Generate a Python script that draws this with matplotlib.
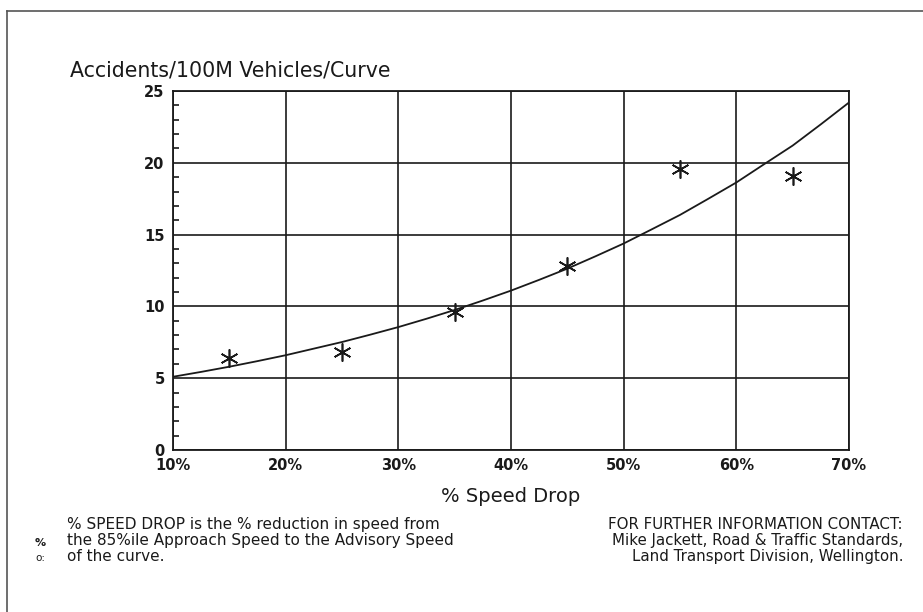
import matplotlib.pyplot as plt
from matplotlib.lines import Line2D
from matplotlib.ticker import MultipleLocator

# observed accident rates per curve
speed_drop = [15, 25, 35, 45, 55, 65]
accidents = [6.4, 6.8, 9.6, 12.8, 19.6, 19.1]

# fitted trend line, read every 2.5 %
fit_x = [10, 12.5, 15, 17.5, 20, 22.5, 25, 27.5, 30, 32.5, 35, 37.5, 40,
         42.5, 45, 47.5, 50, 52.5, 55, 57.5, 60, 62.5, 65, 67.5, 70]
fit_y = [5.1, 5.44, 5.8, 6.19, 6.6, 7.06, 7.52, 8.03, 8.56, 9.14, 9.75,
         10.41, 11.1, 11.85, 12.63, 13.49, 14.38, 15.37, 16.37, 17.49,
         18.63, 19.92, 21.2, 22.68, 24.2]

x_ticks = [10, 20, 30, 40, 50, 60, 70]
x_labels = ['10%', '20%', '30%', '40%', '50%', '60%', '70%']
y_ticks = [0, 5, 10, 15, 20, 25]

ink = '#1a1a1a'

fig = plt.figure(figsize=(9.23, 6.12), dpi=100)
W, H = 923, 612
ax = fig.add_axes([173 / W, 1 - 450 / H, (849 - 173) / W, (450 - 91) / H])

ax.plot(fit_x, fit_y, color=ink, lw=1.3, zorder=3)
ax.plot(speed_drop, accidents, ls='none', marker=(6, 2, 0), ms=13,
        mec=ink, mew=1.2, zorder=4)

ax.set_xlim(10, 70)
ax.set_ylim(0, 25)
ax.set_xticks(x_ticks)
ax.set_xticklabels(x_labels)
ax.set_yticks(y_ticks)
ax.yaxis.set_minor_locator(MultipleLocator(1))
ax.grid(True, color=ink, lw=1.2)
for s in ax.spines.values():
    s.set_color(ink)
    s.set_linewidth(1.3)
ax.tick_params(axis='both', which='major', length=0, pad=6, labelsize=10.5,
               labelcolor=ink)
ax.tick_params(axis='y', which='minor', direction='in', length=4, width=1.2,
               color=ink)
for lab in ax.get_xticklabels() + ax.get_yticklabels():
    lab.set_fontweight('bold')

ax.set_xlabel('% Speed Drop', fontsize=14, color=ink, labelpad=10)

fig.text(70 / W, 1 - 70 / H, 'Accidents/100M Vehicles/Curve', fontsize=14.8,
         color=ink, va='center', ha='left')

note = ('% SPEED DROP is the % reduction in speed from\n'
        'the 85%ile Approach Speed to the Advisory Speed\n'
        'of the curve.')
fig.text(67 / W, 1 - 517 / H, note, fontsize=11, color=ink, va='top',
         ha='left', linespacing=1.08)
fig.text(35 / W, 1 - 543 / H, '%', fontsize=8, color=ink, va='center',
         ha='left', fontweight='bold')
fig.text(35 / W, 1 - 558 / H, 'o:', fontsize=7.5, color=ink, va='center',
         ha='left')

contact = ('FOR FURTHER INFORMATION CONTACT:\n'
           'Mike Jackett, Road & Traffic Standards,\n'
           'Land Transport Division, Wellington.')
fig.text(903 / W, 1 - 517 / H, contact, fontsize=10.8, color=ink, va='top',
         ha='right', multialignment='right', linespacing=1.08)

# page edge: top and left only
fig.add_artist(Line2D([7 / W, 1], [1 - 11 / H, 1 - 11 / H],
                      transform=fig.transFigure, color='#555555', lw=1.2))
fig.add_artist(Line2D([7 / W, 7 / W], [0, 1 - 11 / H],
                      transform=fig.transFigure, color='#555555', lw=1.2))

fig.savefig('out.png', dpi=100)
